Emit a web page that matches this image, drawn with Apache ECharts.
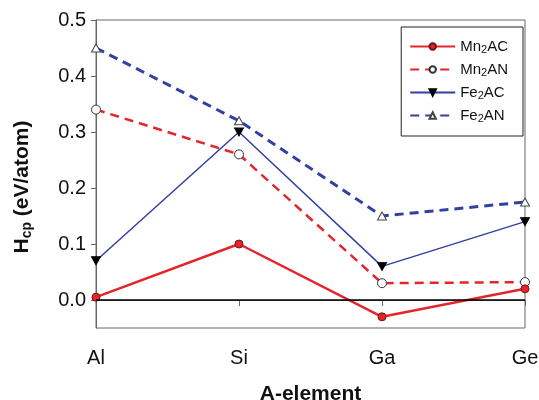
<!DOCTYPE html>
<html>
<head>
<meta charset="utf-8">
<script src="https://cdn.jsdelivr.net/npm/echarts@6/dist/echarts.min.js"></script>
<style>
  html, body { margin: 0; padding: 0; background: #fff; }
  #chart { width: 539px; height: 400px; }
</style>
</head>
<body>
<div id="chart"></div>
<script>
  const elements = ["Al", "Si", "Ga", "Ge"];
  const mn2AC = [0.005, 0.1, -0.03, 0.02];
  const mn2AN = [0.34, 0.26, 0.03, 0.032];
  const fe2AC = [0.07, 0.30, 0.06, 0.14];
  const fe2AN = [0.45, 0.32, 0.15, 0.175];
  const yTicks = [0, 0.1, 0.2, 0.3, 0.4, 0.5];

  const red = "#e3262b";
  const blue = "#3240a2";
  const font = "Liberation Sans, Arial, sans-serif";

  const chart = echarts.init(document.getElementById("chart"));

  // "Mn2AC" -> Mn with subscript 2 then AC
  function subName(name) {
    return "{n|" + name.slice(0, 2) + "}{s|2}{n|" + name.slice(3) + "}";
  }

  const option = {
    animation: false,
    textStyle: { fontFamily: font },
    grid: {
      left: 96, right: 14, top: 20, bottom: 72,
      outerBoundsMode: "none",
      show: true, borderColor: "#666", borderWidth: 1
    },
    legend: {
      orient: "vertical",
      right: 16,
      top: 27,
      padding: [12, 15, 12, 8],
      itemGap: 7,
      itemWidth: 45,
      itemHeight: 8,
      borderColor: "#222",
      borderWidth: 1,
      formatter: subName,
      textStyle: {
        rich: {
          n: { fontSize: 15, fontFamily: font, color: "#111" },
          s: { fontSize: 11, fontFamily: font, color: "#111", verticalAlign: "bottom", padding: [6, 0, 0, 0] }
        }
      },
      data: ["Mn2AC", "Mn2AN", "Fe2AC", "Fe2AN"]
    },
    xAxis: {
      type: "category",
      data: elements,
      boundaryGap: false,
      name: "A-element",
      nameLocation: "middle",
      nameGap: 56,
      nameTextStyle: { fontSize: 21, fontWeight: "bold", color: "#111", fontFamily: font },
      axisLine: { lineStyle: { color: "#666" } },
      axisTick: { show: true, length: 6, lineStyle: { color: "#666" } },
      axisLabel: { fontSize: 20, color: "#111", margin: 20 },
      splitLine: { show: false }
    },
    yAxis: {
      type: "value",
      min: -0.05,
      max: 0.5,
      name: "{h|H}{s|cp}{h| (eV/atom)}",
      nameLocation: "middle",
      nameGap: 62,
      nameTextStyle: {
        padding: [0, 26, 0, 0],
        rich: {
          h: { fontSize: 21, fontWeight: "bold", color: "#111", fontFamily: font },
          s: { fontSize: 14, fontWeight: "bold", color: "#111", fontFamily: font, padding: [9, 0, 0, 0] }
        }
      },
      axisLine: { show: true, lineStyle: { color: "#666" } },
      axisTick: { show: true, length: 5, customValues: yTicks, lineStyle: { color: "#666" } },
      axisLabel: {
        fontSize: 20, color: "#111", margin: 10,
        customValues: yTicks,
        formatter: v => v.toFixed(1)
      },
      splitLine: { show: false }
    },
    series: [
      {
        name: "Mn2AC",
        type: "line",
        data: mn2AC,
        symbol: "circle",
        symbolSize: 8,
        lineStyle: { color: red, width: 2.5 },
        itemStyle: { color: red, borderColor: "#7a1010", borderWidth: 1 },
        markLine: {
          silent: true,
          symbol: "none",
          label: { show: false },
          lineStyle: { color: "#000", type: "solid", width: 1.5 },
          data: [{ yAxis: 0 }]
        },
        z: 4
      },
      {
        name: "Mn2AN",
        type: "line",
        data: mn2AN,
        symbol: "circle",
        symbolSize: 9,
        lineStyle: { color: red, width: 2.5, type: [9, 6] },
        itemStyle: { color: "#fff", borderColor: "#333", borderWidth: 1 },
        z: 3
      },
      {
        name: "Fe2AC",
        type: "line",
        data: fe2AC,
        symbol: "triangle",
        symbolRotate: 180,
        symbolSize: [9, 8],
        lineStyle: { color: blue, width: 1.5 },
        itemStyle: { color: "#000", borderColor: "#000", borderWidth: 1 },
        z: 3
      },
      {
        name: "Fe2AN",
        type: "line",
        data: fe2AN,
        symbol: "triangle",
        symbolSize: [9, 8],
        lineStyle: { color: blue, width: 3, type: [9, 6] },
        itemStyle: { color: "#fff", borderColor: "#444", borderWidth: 1 },
        z: 3
      }
    ]
  };

  chart.setOption(option);
</script>
</body>
</html>
